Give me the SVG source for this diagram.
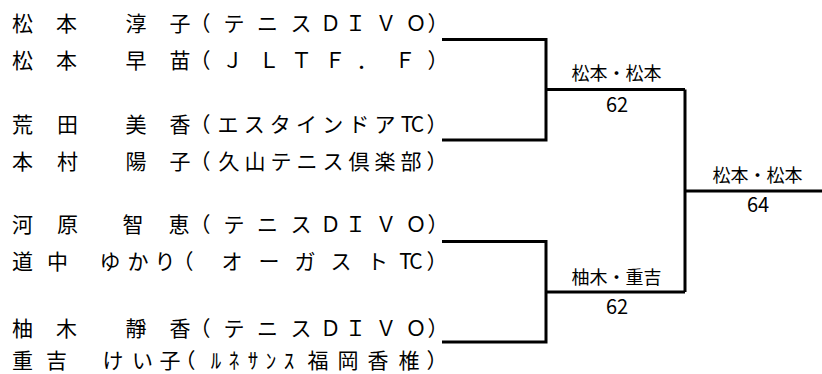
<svg xmlns="http://www.w3.org/2000/svg" width="822" height="374" viewBox="0 0 822 374">
<style>
.n{font-family:"Noto Sans CJK JP","Noto Sans CJK SC",sans-serif;font-size:21px;fill:#000;text-anchor:middle}
.w{font-family:"Noto Sans CJK JP","Noto Sans CJK SC",sans-serif;font-size:18px;fill:#000;text-anchor:middle}
.s{font-family:"Noto Sans CJK JP","Noto Sans CJK SC",sans-serif;font-size:20px;fill:#000;text-anchor:middle}
.c{fill:none;stroke:#000;stroke-width:3}
</style>
<rect width="822" height="374" fill="#fff"/>
<g id="p1"><text class="n" x="22.5 66.5 136 180 200 234 267.5 301 330.5 355.5 386 416 438" y="30.5">松本淳子（テニスＤＩＶＯ）</text></g>
<g id="p2"><text class="n" x="22.5 66.5 136 180 200 232.5 269 301.5 335 367 405 438" y="67.5">松本早苗（ＪＬＴＦ．Ｆ）</text></g>
<g id="p3"><text class="n" x="22.5 67.5 136 180 200 228 254.2 280.3 306.5 332.7 358.8 385 407 417.5 437" y="131.5">荒田美香（エスタインドアTC）</text></g>
<g id="p4"><text class="n" x="22.5 67.5 136 180 200 229 255 281 307 333 359 385 411 437" y="168.5">本村陽子（久山テニス倶楽部）</text></g>
<g id="p5"><text class="n" x="22.5 67.5 133 179 200 234 267.5 301 330.5 355.5 386 416 438" y="231.5">河原智恵（テニスＤＩＶＯ）</text></g>
<g id="p6"><text class="n" x="22.5 57.5 110 138 165 183 232 269 305 341 377.5 405.5 416 437" y="268.5">道中ゆかり（オーガストTC）</text></g>
<g id="p7"><text class="n" x="22.5 66.5 136 180 200 234 267.5 301 330.5 355.5 386 416 438" y="335.5">柚木靜香（テニスＤＩＶＯ）</text></g>
<g id="p8"><text class="n" x="22.5 56.5 113 142.5 170 185 216 234 253 271 289 318 348 378 409 437" y="368">重吉けい子（ﾙﾈｻﾝｽ福岡香椎）</text></g>
<g id="connectors">
<path class="c" d="M442 39.5H546V140H442M546 89.5H685"/>
<path class="c" d="M442 241.5H546V342H442M546 292H685"/>
<path class="c" d="M685 89.5V292M685 191H822"/>
</g>
<g id="m1"><text class="w" x="616.5" y="80.3">松本・松本</text><text class="s" x="617" y="111.7">62</text></g>
<g id="m2"><text class="w" x="616.5" y="284">柚木・重吉</text><text class="s" x="617" y="314">62</text></g>
<g id="m3"><text class="w" x="757.5" y="182">松本・松本</text><text class="s" x="758" y="211.7">64</text></g>
</svg>
